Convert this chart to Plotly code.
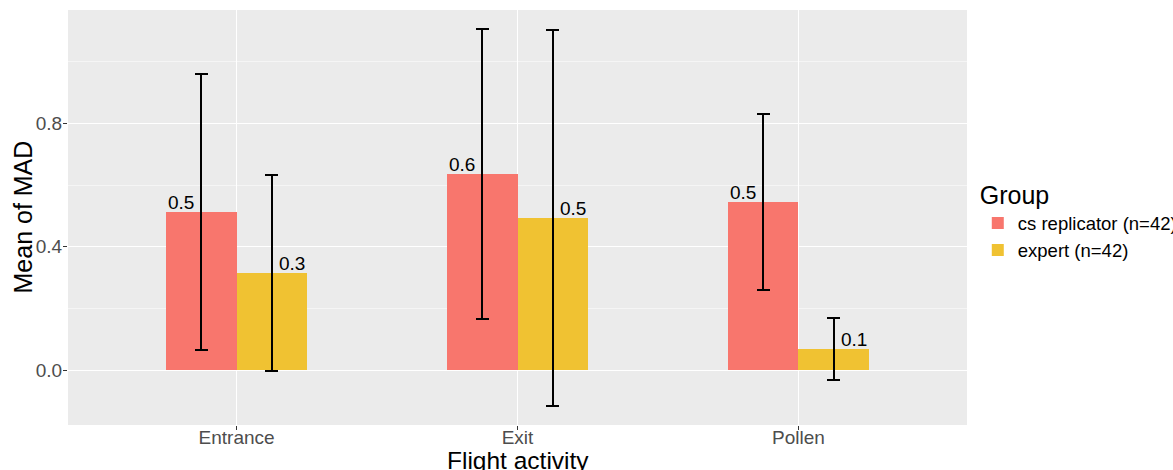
import plotly.graph_objects as go

categories = ["Entrance", "Exit", "Pollen"]
groups = ["cs replicator (n=42)", "expert (n=42)"]
cs_mean = [0.512, 0.635, 0.545]
cs_err = [0.447, 0.470, 0.285]
expert_mean = [0.315, 0.493, 0.069]
expert_err = [0.318, 0.610, 0.099]
colors = ["#F8766D", "#F0C232"]

FONT = "Liberation Sans, Arial, sans-serif"
xpos = list(range(len(categories)))

fig = go.Figure()
for name, mean, err, col, off in [
    (groups[0], cs_mean, cs_err, colors[0], -0.125),
    (groups[1], expert_mean, expert_err, colors[1], 0.125),
]:
    fig.add_trace(go.Bar(
        x=[p + off for p in xpos], y=mean, width=0.25, name=name,
        marker=dict(color=col, line=dict(width=0)),
        error_y=dict(type="data", array=err, visible=True, color="black",
                     thickness=2, width=6.5),
    ))

# value labels
for i, p in enumerate(xpos):
    fig.add_annotation(x=p - 0.25, y=cs_mean[i], text=f"{cs_mean[i]:.1f}",
                       xanchor="left", yanchor="bottom", showarrow=False,
                       font=dict(family=FONT, size=19, color="black"), yshift=-3)
    fig.add_annotation(x=p + 0.25, y=expert_mean[i], text=f"{expert_mean[i]:.1f}",
                       xanchor="right", yanchor="bottom", showarrow=False,
                       font=dict(family=FONT, size=19, color="black"), yshift=-3)

# axis titles
fig.add_annotation(x=0.5, y=0, xref="paper", yref="paper", text="Flight activity",
                   xanchor="center", yanchor="middle", yshift=-35, showarrow=False,
                   font=dict(family=FONT, size=24.5, color="black"))
fig.add_annotation(x=0, y=0.5, xref="paper", yref="paper", text="Mean of MAD",
                   xanchor="center", yanchor="middle", xshift=-46, textangle=-90,
                   showarrow=False, font=dict(family=FONT, size=25, color="black"))

fig.update_layout(
    width=1173, height=470,
    margin=dict(l=68, r=206, t=10, b=45, autoexpand=False),
    paper_bgcolor="white", plot_bgcolor="#EBEBEB",
    barmode="overlay", bargap=0,
    font=dict(family=FONT, color="black"),
    legend=dict(title=dict(text="Group", font=dict(size=25)),
                font=dict(size=18.5), x=1.012, y=0.61, xanchor="left", yanchor="top",
                tracegroupgap=0, itemsizing="constant"),
    xaxis=dict(range=[-0.6, 2.6], tickvals=xpos, ticktext=categories,
               automargin=False, ticklabelstandoff=-9,
               showgrid=True, gridcolor="white", gridwidth=1.2,
               zeroline=False, ticks="outside", ticklen=4, tickcolor="#333333",
               tickfont=dict(size=19, color="#4D4D4D")),
    yaxis=dict(range=[-0.177, 1.167], tickvals=[0.0, 0.4, 0.8],
               ticktext=["0.0", "0.4", "0.8"], automargin=False,
               ticklabelstandoff=-3,
               showgrid=True, gridcolor="white", gridwidth=1.2,
               minor=dict(tickvals=[-0.2, 0.2, 0.6, 1.0], showgrid=True,
                          gridcolor="#F5F5F5", gridwidth=0.6),
               zeroline=False, ticks="outside", ticklen=4, tickcolor="#333333",
               tickfont=dict(size=19, color="#4D4D4D")),
)

fig.write_html("out.html")
